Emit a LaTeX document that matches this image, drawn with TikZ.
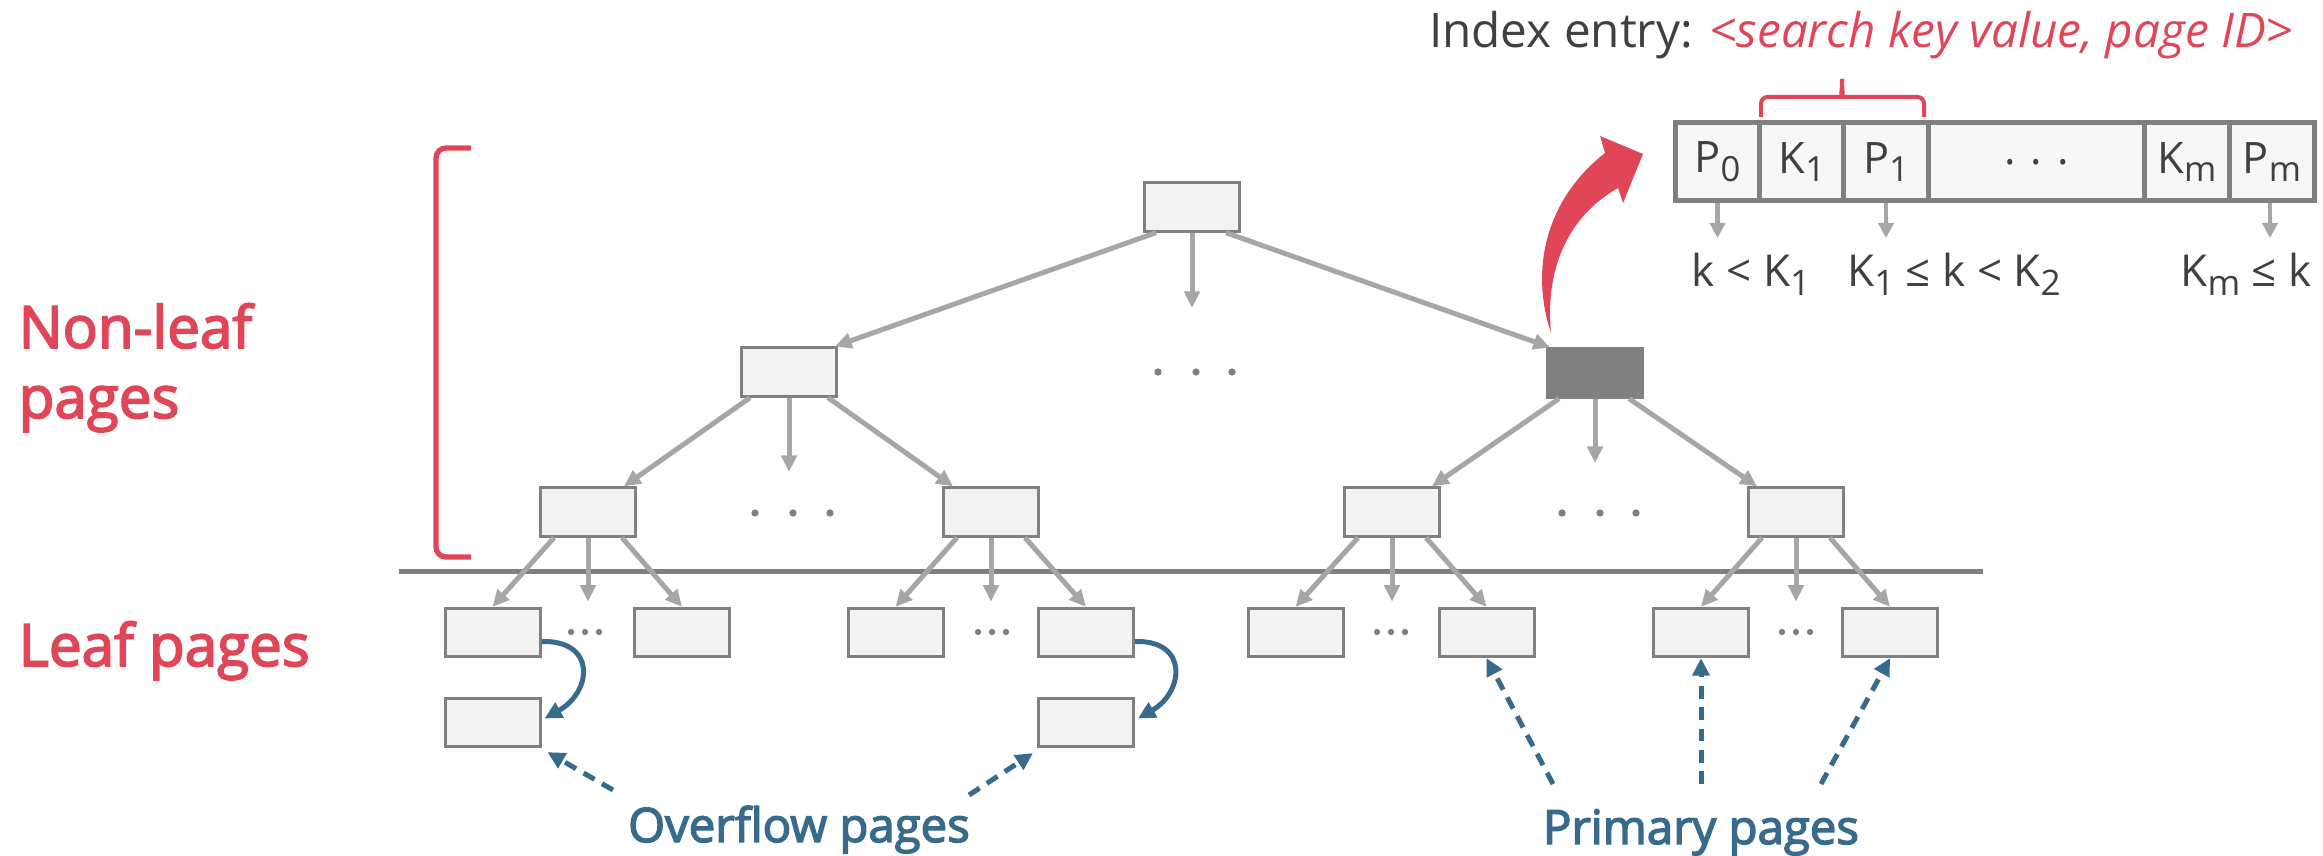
\documentclass[tikz,border=0pt]{standalone}
\usepackage{fontspec}
\setmainfont{Open Sans}
\newfontfamily\semib{Open Sans}[FakeBold=3]
\usetikzlibrary{arrows.meta,calc}
\definecolor{myred}{HTML}{E04558}
\definecolor{myblue}{HTML}{386A8C}
\definecolor{arrgray}{HTML}{A6A6A6}
\definecolor{boxgray}{HTML}{808080}
\definecolor{boxfill}{HTML}{F2F2F2}
\definecolor{cellfill}{HTML}{F7F7F7}
\definecolor{txtgray}{HTML}{404040}
\definecolor{dotgray}{HTML}{808080}
\newcommand\sbs[1]{\raisebox{-0.2em}{\scalebox{0.8}{#1}}}
\begin{document}
\begin{tikzpicture}[x=0.3pt,y=-0.3pt,
  page/.style={draw=boxgray, fill=boxfill, line width=0.9pt, minimum width=28.5pt, minimum height=14.5pt, inner sep=0pt},
  darkpage/.style={page, fill=boxgray},
  tree/.style={draw=arrgray, line width=1.5pt, -{Triangle[length=5pt,width=4.6pt]}},
  small/.style={draw=arrgray, line width=1.4pt, -{Triangle[length=4.5pt,width=4.5pt]}},
  link/.style={draw=myblue, line width=1.5pt, -{Triangle[length=5.2pt,width=5pt]}},
  hint/.style={link, dash pattern=on 3.8pt off 2.6pt},
  cell/.style={draw=boxgray, fill=cellfill, line width=1.5pt, minimum height=23.4pt, inner sep=0pt, text=txtgray, font=\fontsize{13pt}{15pt}\selectfont},
  bigred/.style={text=myred, inner sep=0pt, font=\semib\fontsize{17.5pt}{21pt}\selectfont},
  bluetxt/.style={text=myblue, inner sep=0pt, font=\semib\fontsize{14.2pt}{17pt}\selectfont},
  lbl/.style={text=txtgray, inner sep=0pt, anchor=base, font=\fontsize{13.2pt}{15pt}\selectfont}
]
\useasboundingbox (0,0) rectangle (2323,856);

% ---------- tree pages ----------
\node[page] (R) at (1192,207) {};
\node[page] (A) at (789,372) {};
\node[darkpage] (D) at (1595,373) {};
\node[page] (B1) at (588,512) {};
\node[page] (B2) at (991,512) {};
\node[page] (B3) at (1392,512) {};
\node[page] (B4) at (1796,512) {};
\node[page] (L1) at (492.5,632.5) {};
\node[page] (L2) at (682,632.5) {};
\node[page] (L3) at (895.5,632.5) {};
\node[page] (L4) at (1086,632.5) {};
\node[page] (L5) at (1295.5,632.5) {};
\node[page] (L6) at (1486.5,632.5) {};
\node[page] (L7) at (1701,632.5) {};
\node[page] (L8) at (1890,632.5) {};
\node[page] (O1) at (492.5,722.5) {};
\node[page] (O2) at (1086,722.5) {};

% separator
\draw[boxgray, line width=1.5pt] (399,571) -- (1983,571);

% dots
\foreach \x in {1158,1196,1232} \fill[dotgray] (\x,372) circle[radius=1.1pt];
\foreach \x in {755,793,830,1562,1600,1636} \fill[dotgray] (\x,513) circle[radius=1.1pt];
\foreach \c in {585,992,1391,1796} \foreach \d in {-14,0,14} \fill[dotgray] (\c+\d,632) circle[radius=0.95pt];

% tree arrows
\coordinate (Rm) at (1192,308);
\coordinate (Am) at (789,472);
\coordinate (Dm) at (1595,463);
\draw[tree] ($(R.south west)+(13,0)$) -- ($(A.north east)+(-3,0)$);
\draw[tree] (R.south) -- (Rm);
\draw[tree] ($(R.south east)+(-15,0)$) -- ($(D.north west)+(4,0)$);
\draw[tree] ($(A.south west)+(10,0)$) -- ($(B1.north east)+(-13,0)$);
\draw[tree] (A.south) -- (Am);
\draw[tree] ($(A.south east)+(-10,0)$) -- ($(B2.north west)+(11,0)$);
\draw[tree] ($(D.south west)+(13,0)$) -- ($(B3.north east)+(-9,0)$);
\draw[tree] (D.south) -- (Dm);
\draw[tree] ($(D.south east)+(-15,0)$) -- ($(B4.north west)+(10,0)$);
\foreach \b/\l/\r in {B1/L1/L2,B2/L3/L4,B3/L5/L6,B4/L7/L8}{
  \coordinate (\b m) at ($(\b.south)+(0,64)$);
  \draw[tree] ($(\b.south west)+(15,0)$) -- (\l.north);
  \draw[tree] (\b.south) -- (\b m);
  \draw[tree] ($(\b.south east)+(-15,0)$) -- (\r.north);
}

% overflow links
\draw[link] ($(L1.east)+(0,9)$) .. controls (597,640) and (592,692) .. ($(O1.east)+(3,-4)$);
\draw[link] ($(L4.east)+(0,9)$) .. controls (1189,640) and (1184,692) .. ($(O2.east)+(3,-4)$);

% labels bottom
\node[bluetxt, anchor=base] (ov) at (799,842) {Overflow pages};
\node[bluetxt, anchor=base] (pr) at (1701,844) {Primary pages};
\coordinate (d1) at (613,790);
\coordinate (d2) at (969,795);
\coordinate (d3) at (1553,784);
\coordinate (d4) at (1701,784);
\coordinate (d5) at (1821,784);
\draw[hint] (d1) -- ($(O1.south east)+(6,4)$);
\draw[hint] (d2) -- ($(O2.south west)+(-4,5)$);
\draw[hint] (d3) -- (L6.south);
\draw[hint] (d4) -- (L7.south);
\draw[hint] (d5) -- (L8.south);

% left labels
\node[bigred, anchor=base west] (nl1) at (18,348) {Non-leaf};
\node[bigred, anchor=base west] (nl2) at (18,418) {pages};
\node[bigred, anchor=base west] (lp) at (18,666) {Leaf pages};
\draw[myred, line width=1.6pt, rounded corners=3pt] (471,148) -- (436,148) -- (436,557) -- (471,557);

% red curved arrow
\fill[myred] (1551,333) .. controls (1530,270) and (1545,200) .. (1605,153)
  -- (1600,136) -- (1643,154) -- (1623,203) -- (1618,188)
  .. controls (1567,217) and (1545,270) .. (1551,333) -- cycle;

% index entry
\node[cell, minimum width=25.5pt] (P0) at (1717.5,162) {P\sbs{0}};
\node[cell, minimum width=25.5pt] (K1) at (1802,162) {K\sbs{1}};
\node[cell, minimum width=25.5pt] (P1) at (1886,162) {P\sbs{1}};
\node[cell, minimum width=65.1pt] (dd) at (2036.5,162) {. . .};
\node[cell, minimum width=25.5pt] (Km) at (2187,162) {K\sbs{m}};
\node[cell, minimum width=25.5pt] (Pm) at (2272,162) {P\sbs{m}};

\draw[myred, line width=1.2pt, rounded corners=2pt] (1761,117) -- (1761,97) -- (1836,97)
  .. controls (1840,97) and (1842,93) .. (1842,79);
\draw[myred, line width=1.2pt, rounded corners=2pt] (1924,117) -- (1924,97) -- (1848,97)
  .. controls (1844,97) and (1842,93) .. (1842,79);

\node[anchor=base east, inner sep=0pt, text=txtgray, font=\fontsize{14.3pt}{17pt}\selectfont] (hdr) at (2294,48)
  {Index entry: \textcolor{myred}{\itshape <search key value, page ID>}};

\coordinate (a0) at (1717.5,238);
\coordinate (a1) at (1886,238);
\coordinate (am) at (2270,238);
\draw[small] (P0.south) -- (a0);
\draw[small] (P1.south) -- (a1);
\draw[small] ($(Pm.south)+(-2,0)$) -- (am);
\node[lbl] (c1) at (1751,287) {k < K\sbs{1}};
\node[lbl] (c2) at (1954,287) {K\sbs{1} ≤ k < K\sbs{2}};
\node[lbl] (c3) at (2246,287) {K\sbs{m} ≤ k};
\end{tikzpicture}
\end{document}
